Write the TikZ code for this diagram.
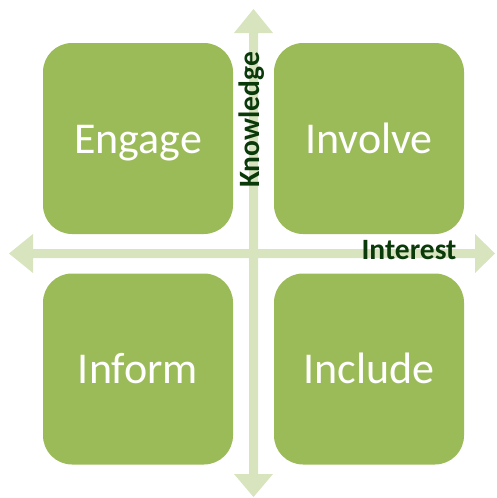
\documentclass[tikz,border=0pt]{standalone}
\usepackage{fontspec}
\setmainfont{Carlito}
\definecolor{boxgreen}{HTML}{9BBB59}
\definecolor{axisgreen}{HTML}{D7E4BD}
\definecolor{labelgreen}{HTML}{0A3A0A}
\tikzset{
  quad/.style={fill=boxgreen, draw=none, rounded corners=29pt, minimum width=190pt, minimum height=191pt, inner sep=0pt},
  quadtext/.style={text=white, font=\fontsize{44}{50}\selectfont, anchor=base, inner sep=0pt},
  axislabel/.style={text=labelgreen, font=\bfseries\fontsize{29.5}{34}\selectfont, inner sep=0pt},
  axisarrow/.style={fill=axisgreen, draw=none}
}
\begin{document}
\begin{tikzpicture}[x=1pt,y=-1pt]
\useasboundingbox (0,0) rectangle (497,498);
% quadrants
\node[quad] (tl) at (138,138.5) {};
\node[quad] (tr) at (369,138.5) {};
\node[quad] (bl) at (138,369) {};
\node[quad] (br) at (369,369) {};
% axes
\fill[axisarrow] (253.5,9) -- (273,33) -- (258,33) -- (258,474) -- (273,474) -- (253.5,497) -- (234,474) -- (249,474) -- (249,33) -- (234,33) -- cycle;
\fill[axisarrow] (9,253.5) -- (33,234) -- (33,249) -- (475,249) -- (475,234) -- (495,253.5) -- (475,273) -- (475,258) -- (33,258) -- (33,273) -- cycle;
% texts
\node[quadtext] (engage) at ([yshift=-14.5pt]tl.center) {Engage};
\node[quadtext] (involve) at ([yshift=-14.5pt]tr.center) {Involve};
\node[quadtext] (inform) at ([yshift=-14.5pt]bl.center) {Inform};
\node[quadtext] (include) at ([yshift=-14.5pt]br.center) {Include};
\node[axislabel, rotate=90, anchor=center] (knowledge) at (251.5,120) {Knowledge};
\node[axislabel, anchor=base] (interest) at (409,259) {Interest};
\end{tikzpicture}
\end{document}
